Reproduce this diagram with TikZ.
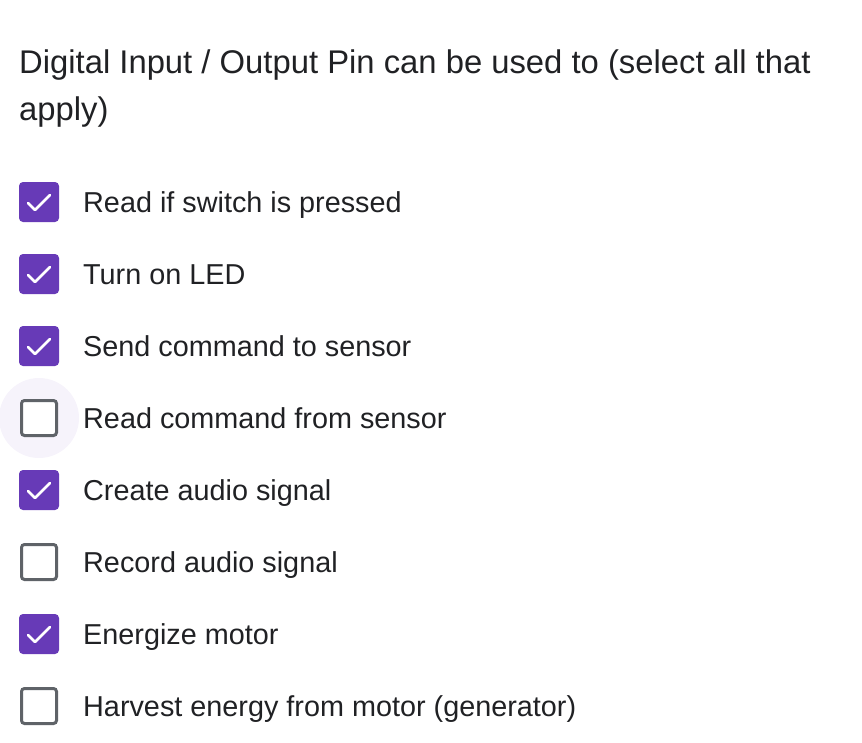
\documentclass[tikz,border=0pt]{standalone}
\usepackage{fontspec}
\setmainfont{Liberation Sans}
\definecolor{purp}{HTML}{673AB7}
\definecolor{gbord}{HTML}{5F6368}
\definecolor{txt}{HTML}{202124}
\definecolor{hov}{HTML}{F6F3FB}
\begin{document}
\begin{tikzpicture}[x=1pt,y=-1pt,
  opt/.style={anchor=base west,inner sep=0pt,text=txt,font=\fontsize{28.8}{32}\selectfont},
  on/.style={fill=purp,rounded corners=4pt},
  off/.style={draw=gbord,line width=3pt,fill=white,rounded corners=3pt},
  tick/.style={draw=white,line width=2.6pt,line cap=round,line join=round}]
\useasboundingbox (0,0) rectangle (862,742);
\node[anchor=base west,inner sep=0pt,text=txt,align=left,font=\fontsize{32.8}{47}\selectfont] (title) at (19,120) {Digital Input / Output Pin can be used to (select all that\\apply)};
\fill[hov] (39,418) circle (40);
\foreach \i/\t/\c in {0/Read if switch is pressed/1,1/Turn on LED/1,2/Send command to sensor/1,3/Read command from sensor/0,4/Create audio signal/1,5/Record audio signal/0,6/Energize motor/1,7/Harvest energy from motor (generator)/0}{
  \pgfmathsetmacro\yy{202+72*\i}
  \ifnum\c=1
    \path[on] (19,\yy-20) rectangle (59,\yy+20);
    \draw[tick] (28,\yy+1) -- (35,\yy+8) -- (50,\yy-7);
  \else
    \path[off] (21.5,\yy-17.5) rectangle (56.5,\yy+17.5);
  \fi
  \node[opt] (o\i) at (83,\yy+10) {\t};
}
\end{tikzpicture}
\end{document}
